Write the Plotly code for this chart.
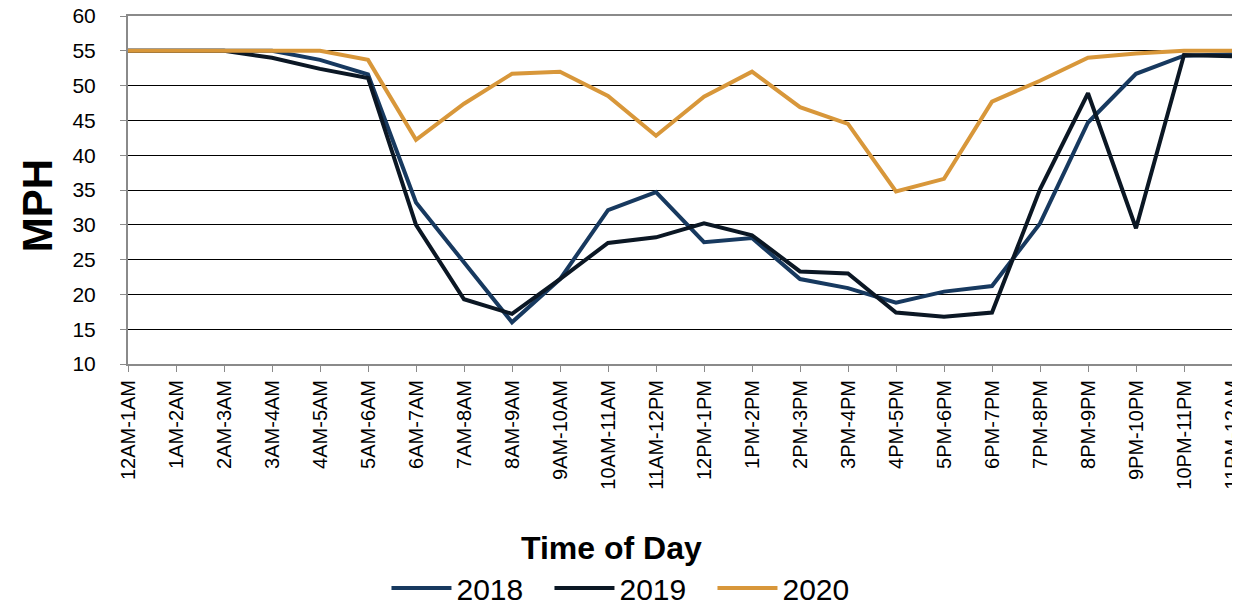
import plotly.graph_objects as go

categories = ["12AM-1AM", "1AM-2AM", "2AM-3AM", "3AM-4AM", "4AM-5AM", "5AM-6AM",
              "6AM-7AM", "7AM-8AM", "8AM-9AM", "9AM-10AM", "10AM-11AM", "11AM-12PM",
              "12PM-1PM", "1PM-2PM", "2PM-3PM", "3PM-4PM", "4PM-5PM", "5PM-6PM",
              "6PM-7PM", "7PM-8PM", "8PM-9PM", "9PM-10PM", "10PM-11PM", "11PM-12AM"]

speed_2018 = [55, 55, 55, 55, 53.7, 51.6, 33.2, 24.6, 16.0, 22.2, 32.1, 34.7,
              27.5, 28.1, 22.2, 20.9, 18.8, 20.4, 21.2, 30.2, 44.7, 51.7, 54.3, 54.5]
speed_2019 = [55, 55, 55, 54.0, 52.4, 51.1, 30.0, 19.3, 17.2, 22.2, 27.4, 28.2,
              30.2, 28.5, 23.3, 23.0, 17.4, 16.8, 17.4, 35.1, 48.9, 29.5, 54.4, 54.2]
speed_2020 = [55, 55, 55, 55, 55, 53.7, 42.2, 47.4, 51.7, 52.0, 48.5, 42.8,
              48.4, 52.0, 46.9, 44.5, 34.8, 36.6, 47.7, 50.7, 54.0, 54.6, 55, 55]

series = [("2018", speed_2018, "#17395F"),
          ("2019", speed_2019, "#0B1724"),
          ("2020", speed_2020, "#D8973A")]

y_ticks = [10, 15, 20, 25, 30, 35, 40, 45, 50, 55, 60]

FONT = "Liberation Sans, Arial, sans-serif"

fig = go.Figure()
for name, vals, color in series:
    fig.add_trace(go.Scatter(x=categories, y=vals, name=name, mode="lines",
                             line=dict(color=color, width=4)))

# the page adds an 8px body margin; margins are chosen so the plot area
# lands at the same window position as in the reference
fig.update_layout(
    width=1240, height=606,
    margin=dict(l=120, r=16, t=8, b=250, autoexpand=False),
    paper_bgcolor="white", plot_bgcolor="white",
    font=dict(family=FONT, color="black"),
    showlegend=True,
    legend=dict(orientation="h", x=0.5024, xref="container", xanchor="center",
                yref="container", y=0, yanchor="bottom",
                font=dict(size=30, family=FONT), itemwidth=60,
                entrywidth=88, tracegroupgap=0),
    annotations=[
        dict(text="<b>Time of Day</b>", xref="paper", yref="paper",
             x=0.438, y=-0.53, showarrow=False, font=dict(size=32, family=FONT),
             xanchor="center", yanchor="middle"),
        dict(text="<b>MPH</b>", xref="paper", yref="paper", x=-0.082, y=0.455,
             textangle=-90, showarrow=False, font=dict(size=42, family=FONT),
             xanchor="center", yanchor="middle"),
    ],
)

fig.update_xaxes(type="category", range=[0, 23], tickangle=-90, automargin=False,
                 tickfont=dict(size=20, family=FONT), ticklabeloverflow="allow",
                 showline=True, linecolor="#8a8a8a", linewidth=2, mirror=True,
                 ticks="outside", ticklen=6, tickcolor="#8a8a8a", tickwidth=1,
                 showgrid=False, zeroline=False)
fig.update_yaxes(range=[10, 60], tickvals=y_ticks, automargin=False,
                 tickfont=dict(size=21, family=FONT), ticklabeloverflow="allow",
                 showline=True, linecolor="#8a8a8a", linewidth=2, mirror=True,
                 ticks="outside", ticklen=6, tickcolor="#8a8a8a", tickwidth=1,
                 showgrid=True, gridcolor="black", gridwidth=1, zeroline=False,
                 ticklabelstandoff=20)

fig.write_html("out.html")
